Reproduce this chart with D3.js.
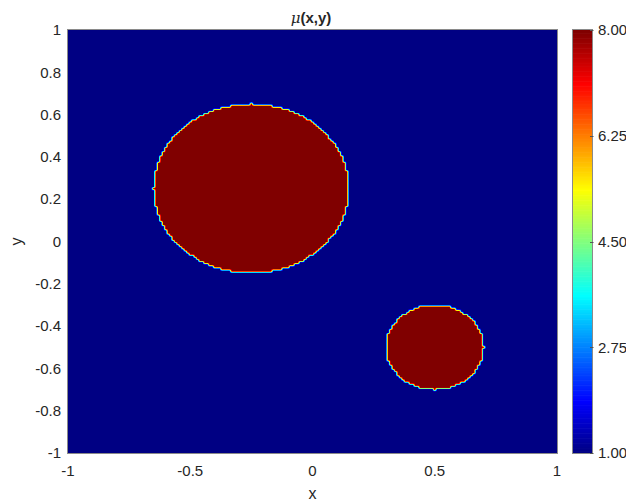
<!DOCTYPE html>
<html>
<head>
<meta charset="utf-8">
<script src="https://cdn.jsdelivr.net/npm/d3@7"></script>
<style>
  body { margin: 0; background: #fff; }
  text { font-family: "Liberation Sans", Arial, Helvetica, sans-serif; fill: #262626; }
</style>
</head>
<body>
<svg id="chart" width="626" height="502"></svg>
<script>
// Axis ticks
const xTicks = [-1, -0.5, 0, 0.5, 1];
const yTicks = [-1, -0.8, -0.6, -0.4, -0.2, 0, 0.2, 0.4, 0.6, 0.8, 1];
const colorTicks = [1, 2.75, 4.5, 6.25, 8];

// Circular inclusions of high mu inside a uniform background
const inclusionX = [-0.2501, 0.5001];
const inclusionY = [0.2501, -0.5001];
const inclusionR = [0.4, 0.2];
const inclusionMu = [8, 8];
const backgroundMu = 1;
const gridNodes = 201;          // nodes per side on [-1, 1]
const muRange = [1, 8];

// MATLAB-style jet colormap with m entries
function jet(m) {
  const n = Math.ceil(m / 4);
  const u = [];
  for (let i = 1; i <= n; i++) u.push(i / n);
  for (let i = 1; i < n; i++) u.push(1);
  for (let i = n; i >= 1; i--) u.push(i / n);
  const off = Math.ceil(n / 2) - (m % 4 === 1 ? 1 : 0);
  let g = u.map((_, k) => off + k + 1);
  let r = g.map(v => v + n);
  let b = g.map(v => v - n);
  g = g.filter(v => v <= m);
  r = r.filter(v => v <= m);
  b = b.filter(v => v >= 1);
  const J = Array.from({length: m}, () => [0, 0, 0]);
  r.forEach((idx, k) => { J[idx - 1][0] = u[k]; });
  g.forEach((idx, k) => { J[idx - 1][1] = u[k]; });
  b.forEach((idx, k) => { J[idx - 1][2] = u[u.length - b.length + k]; });
  return J;
}
const cmap = jet(256);
function colorIndex(v) {
  let idx = Math.floor((v - muRange[0]) / (muRange[1] - muRange[0]) * cmap.length);
  return Math.max(0, Math.min(cmap.length - 1, idx));
}

const svg = d3.select("#chart");
const x = d3.scaleLinear().domain([-1, 1]).range([68, 557]);
const y = d3.scaleLinear().domain([-1, 1]).range([453, 30]);

// Nodal field values
const nodes = d3.range(gridNodes).map(i => -1 + 2 * i / (gridNodes - 1));
const field = nodes.map(yv => nodes.map(xv => {
  for (let c = 0; c < inclusionX.length; c++) {
    const dx = xv - inclusionX[c], dy = yv - inclusionY[c];
    if (dx * dx + dy * dy <= inclusionR[c] * inclusionR[c]) return inclusionMu[c];
  }
  return backgroundMu;
}));

// Render the interpolated field into a canvas and embed it
const W = Math.round(x(1) - x(-1)), H = Math.round(y(-1) - y(1));
const canvas = document.createElement("canvas");
canvas.width = W; canvas.height = H;
const ctx = canvas.getContext("2d");
const img = ctx.createImageData(W, H);
const step = 2 / (gridNodes - 1);
for (let py = 0; py < H; py++) {
  const yv = 1 - (py + 0.5) / H * 2;
  const fj = (yv + 1) / step; const j0 = Math.min(gridNodes - 2, Math.floor(fj)); const ty = fj - j0;
  for (let px = 0; px < W; px++) {
    const xv = -1 + (px + 0.5) / W * 2;
    const fi = (xv + 1) / step; const i0 = Math.min(gridNodes - 2, Math.floor(fi)); const tx = fi - i0;
    const v = (1 - tx) * (1 - ty) * field[j0][i0] + tx * (1 - ty) * field[j0][i0 + 1]
            + (1 - tx) * ty * field[j0 + 1][i0] + tx * ty * field[j0 + 1][i0 + 1];
    const c = cmap[colorIndex(v)];
    const o = (py * W + px) * 4;
    img.data[o] = Math.round(c[0] * 255);
    img.data[o + 1] = Math.round(c[1] * 255);
    img.data[o + 2] = Math.round(c[2] * 255);
    img.data[o + 3] = 255;
  }
}
ctx.putImageData(img, 0, 0);
svg.append("image")
  .attr("x", x(-1)).attr("y", y(1))
  .attr("width", W).attr("height", H)
  .attr("preserveAspectRatio", "none")
  .attr("href", canvas.toDataURL());

// Plot frame
svg.append("rect")
  .attr("x", x(-1) - 0.5).attr("y", y(1) - 0.5)
  .attr("width", W + 1).attr("height", H + 1)
  .attr("fill", "none").attr("stroke", "#8a8a8a").attr("stroke-width", 1);

// Tick labels (plain hyphen for negatives)
const fmtTick = d => String(Math.round(d * 10) / 10);
svg.append("g").selectAll("text").data(xTicks).join("text")
  .attr("x", d => x(d)).attr("y", 476)
  .attr("text-anchor", "middle").attr("font-size", 15)
  .text(fmtTick);
svg.append("g").selectAll("text").data(yTicks).join("text")
  .attr("x", 61).attr("y", d => y(d)).attr("dy", "0.35em")
  .attr("text-anchor", "end").attr("font-size", 15)
  .text(fmtTick);

// Axis labels and title
svg.append("text").attr("x", 312.5).attr("y", 499)
  .attr("text-anchor", "middle").attr("font-size", 16).text("x");
svg.append("text").attr("transform", "translate(22,241.5) rotate(-90)")
  .attr("text-anchor", "middle").attr("font-size", 16).text("y");
const title = svg.append("text").attr("x", 311).attr("y", 23)
  .attr("text-anchor", "middle").attr("font-size", 15).attr("font-weight", "bold");
title.append("tspan").attr("font-style", "italic").attr("font-weight", "normal")
  .attr("font-family", "DejaVu Serif, serif").text("μ");
title.append("tspan").text("(x,y)");

// Colorbar
const cb = { x0: 573, x1: 592 };
const cy = d3.scaleLinear().domain(muRange).range([453, 30]);
const bandH = (cy(muRange[0]) - cy(muRange[1])) / cmap.length;
svg.append("g").selectAll("rect").data(cmap).join("rect")
  .attr("x", cb.x0).attr("width", cb.x1 - cb.x0)
  .attr("y", (d, i) => cy(muRange[0]) - (i + 1) * bandH)
  .attr("height", bandH + 0.6)
  .attr("fill", d => d3.rgb(d[0] * 255, d[1] * 255, d[2] * 255));
svg.append("rect")
  .attr("x", cb.x0 - 0.5).attr("y", cy(muRange[1]) - 0.5)
  .attr("width", cb.x1 - cb.x0 + 1).attr("height", cy(muRange[0]) - cy(muRange[1]) + 1)
  .attr("fill", "none").attr("stroke", "#8a8a8a").attr("stroke-width", 1);
svg.append("g").selectAll("line").data(colorTicks).join("line")
  .attr("x1", cb.x1 - 2).attr("x2", cb.x1 + 1.5)
  .attr("y1", d => Math.round(cy(d)) + 0.5).attr("y2", d => Math.round(cy(d)) + 0.5)
  .attr("stroke", "#555").attr("stroke-width", 1);
svg.append("g").selectAll("text").data(colorTicks).join("text")
  .attr("x", 598).attr("y", d => cy(d)).attr("dy", "0.35em")
  .attr("font-size", 15)
  .text(d => d3.format(".2f")(d));
</script>
</body>
</html>
